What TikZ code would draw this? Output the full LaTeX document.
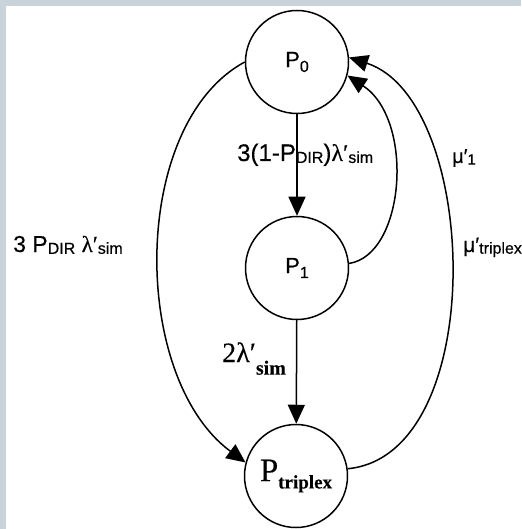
\documentclass[tikz,border=0pt]{standalone}
\usepackage{fontspec}
\setmainfont[FakeBold=0.3]{Liberation Serif}
\newfontfamily\arialf[FakeBold=0.4]{Liberation Sans}
\usetikzlibrary{arrows.meta}
\newcommand{\fsz}[1]{\fontsize{#1}{#1}\selectfont}
\newcommand{\mysub}[2]{\raisebox{-0.22em}{\fsz{#1}#2}}
\newcommand{\mysubhi}[2]{\raisebox{-0.08em}{\fsz{#1}#2}}
\newcommand{\mysublo}[2]{\raisebox{-0.45em}{\fsz{#1}#2}}
\definecolor{frame}{HTML}{C9D3DA}
\begin{document}
\begin{tikzpicture}[x=1pt,y=-1pt,
  state/.style={draw, line width=1.5pt, circle, minimum size=103pt, inner sep=0pt},
  lbl/.style={inner sep=0pt, anchor=base west},
  edge/.style={line width=1.5pt, -{Triangle[width=17pt,length=19pt]}},
]
\fill[frame] (0,0) rectangle (521,529);
\fill[white] (6,6) rectangle (521,529);
\useasboundingbox (0,0) rectangle (521,529);
\node[state] (p0) at (297,62) {\arialf\fsz{22}P\mysub{16}{0}};
\node[state] (p1) at (297,268) {\arialf\fsz{22}P\mysub{16}{1}};
\node[state] (pt) at (296,476) {\fsz{33}P\mysub{19}{\bfseries triplex}};
\draw[edge] (p0) -- (p1);
\draw[edge] (p1) -- (pt);
\draw[edge] (p0.west) .. controls (130,124) and (130,377) .. (pt.165);
\draw[edge] (p1.5) .. controls (405,255) and (415,120) .. (p0.-15);
\draw[edge] (pt.8) .. controls (490,455) and (480,100) .. (p0.5);
\node[lbl] (l1) at (237,161) {\arialf\fsz{24}3(1-P\mysubhi{16}{DIR})\rmfamily λ′\mysubhi{16}{\arialf sim}};
\node[lbl] (l2) at (222,362) {\fsz{28}2λ′\mysublo{20}{\bfseries sim}};
\node[lbl] (l3) at (13,252) {\arialf\fsz{23}3 P\mysubhi{16}{DIR} \rmfamily λ′\mysubhi{16}{\arialf sim}};
\node[lbl] (l4) at (452,163) {\arialf\fsz{20}μ′\mysubhi{15}{1}};
\node[lbl] (l5) at (463,252) {\arialf\fsz{21}μ′\mysubhi{16}{triplex}};
\end{tikzpicture}
\end{document}
